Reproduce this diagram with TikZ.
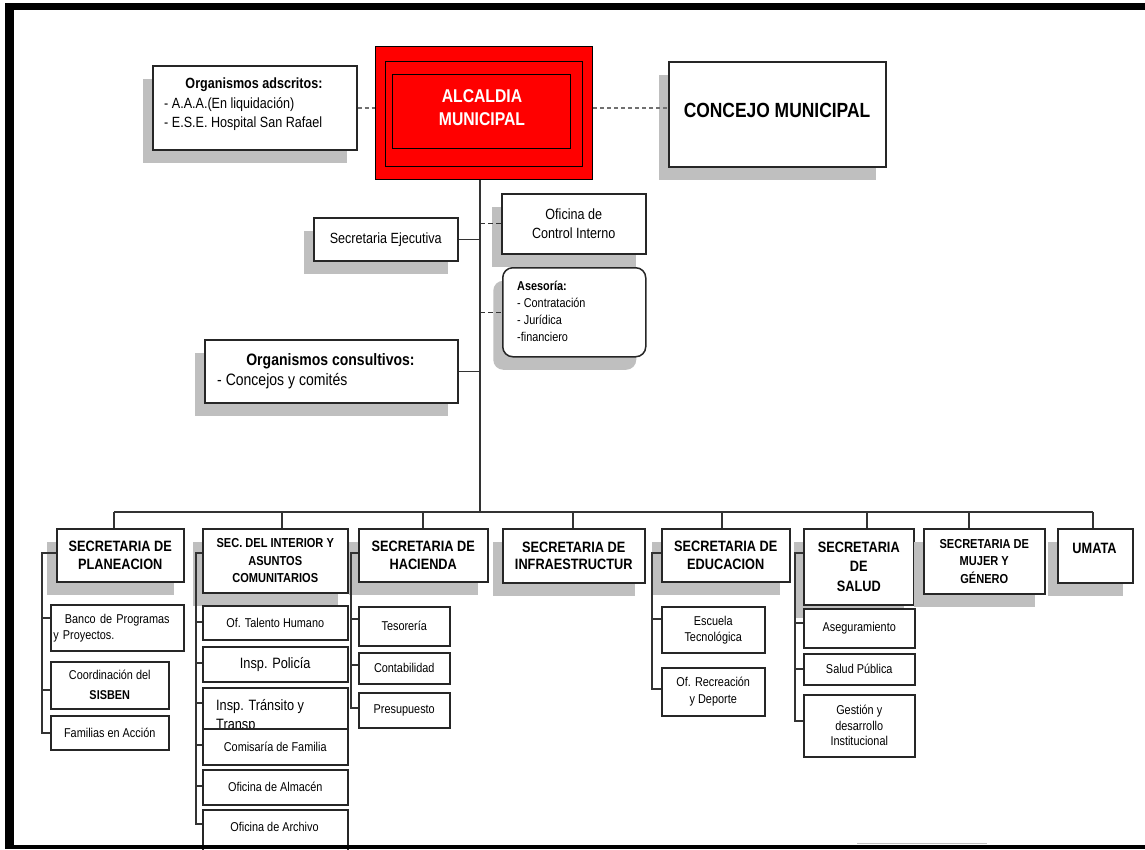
\documentclass[tikz,border=0pt]{standalone}
\usepackage{fontspec}
\setmainfont[FakeStretch=0.85]{Liberation Sans}
\usetikzlibrary{shadows}
\definecolor{shgray}{HTML}{BFBFBF}
\definecolor{boxc}{HTML}{262626}
\definecolor{linec}{HTML}{333333}
\definecolor{dgray}{HTML}{707070}
\definecolor{alcred}{HTML}{FF0000}
\newcommand\fz[2]{\fontsize{#1pt}{#2pt}\selectfont}
\begin{document}
\begin{tikzpicture}[x=1pt,y=-1pt,
  box/.style={draw=boxc,line width=1.5pt,fill=white,inner sep=0pt,anchor=north west,align=center,text=black},
  shad/.style={drop shadow={shadow xshift=-9.5pt,shadow yshift=-13pt,fill=shgray,opacity=1,draw=none}},
  redbox/.style={box,fill=alcred,draw=black,line width=1.2pt},
  conn/.style={draw=linec,line width=1.3pt},
  dashtop/.style={draw=dgray,line width=2.6pt,dash pattern=on 4pt off 3pt},
  dashmid/.style={draw=linec,line width=1.3pt,dash pattern=on 5pt off 3pt},
  ttl/.style={font=\bfseries\fz{15}{17.5}},
  ttls/.style={font=\bfseries\fz{13}{17.5}},
  sub/.style={font=\fz{12.8}{16}},
  subl/.style={font=\fz{15}{18}},
  lbl/.style={inner sep=0pt,text=black},
]
\useasboundingbox (0,0) rectangle (1145,849);

% ---------- top level ----------
\node[box,shad,minimum width=204pt,minimum height=84pt] (ads) at (152,65) {};
\node[lbl,anchor=base,font=\bfseries\fz{14.8}{17}] (adsT) at (254,88) {Organismos adscritos:};
\node[lbl,anchor=base west,font=\fz{14.8}{17}] (adsA) at (164,108) {- A.A.A.(En liquidación)};
\node[lbl,anchor=base west,font=\fz{14.8}{17}] (adsB) at (164,127) {- E.S.E. Hospital San Rafael};

\node[redbox,minimum width=217pt,minimum height=133pt] (alc) at (375,46) {};
\node[redbox,minimum width=197pt,minimum height=105pt] (alc1) at (385,61) {};
\node[redbox,minimum width=178pt,minimum height=74pt] (alc2) at (392,74) {};
\node[lbl,anchor=base,text=white,font=\bfseries\fz{18.5}{23}] (alcT1) at (482,102) {ALCALDIA};
\node[lbl,anchor=base,text=white,font=\bfseries\fz{18.5}{23}] (alcT2) at (482,125) {MUNICIPAL};

\node[box,shad,minimum width=217pt,minimum height=105pt] (con) at (668,61) {};
\node[lbl,anchor=base,font=\bfseries\fz{20.5}{24}] (conT) at (777,117) {CONCEJO MUNICIPAL};

\node[box,shad,minimum width=144pt,minimum height=43pt,font=\fz{14.8}{18}] (sej) at (313,217) {Secretaria Ejecutiva};
\node[box,shad,minimum width=144pt,minimum height=60pt,font=\fz{14.8}{19}] (oci) at (501,193) {Oficina de\\Control Interno};
\node[box,shad,rounded corners=10pt,minimum width=143pt,minimum height=89pt] (ase) at (502,267) {};
\node[lbl,anchor=north west,align=left,font=\fz{12.8}{17}] (aseT) at (517,281) {\textbf{Asesoría:}\\- Contratación\\- Jurídica\\-financiero};

\node[box,shad,minimum width=253pt,minimum height=63pt] (cons) at (204,339) {};
\node[lbl,anchor=base,font=\bfseries\fz{16.5}{19}] (consT) at (330.5,365) {Organismos consultivos:};
\node[lbl,anchor=base west,font=\fz{16.5}{19}] (consA) at (217,385) {- Concejos y comités};

% ---------- secretarias ----------
\node[box,shad,ttl,minimum width=127pt,minimum height=53pt] (pla) at (56,528) {SECRETARIA DE\\PLANEACION};
\node[box,shad,ttls,minimum width=145pt,minimum height=64pt] (int) at (202,528) {SEC. DEL INTERIOR Y\\ASUNTOS\\COMUNITARIOS};
\node[box,shad,ttl,minimum width=129pt,minimum height=53pt] (hac) at (358,528) {SECRETARIA DE\\HACIENDA};
\node[box,shad,ttl,minimum width=142pt,minimum height=54pt] (inf) at (502,528) {SECRETARIA DE\\INFRAESTRUCTUR};
\node[box,shad,ttl,minimum width=128pt,minimum height=53pt] (edu) at (661,528) {SECRETARIA DE\\EDUCACION};
\node[box,shad,font=\bfseries\fz{15}{19.5},minimum width=110pt,minimum height=76pt] (sal) at (803,528) {SECRETARIA\\DE\\SALUD};
\node[box,shad,ttls,minimum width=121pt,minimum height=65pt] (muj) at (923,528) {SECRETARIA DE\\MUJER Y\\GÉNERO};
\node[box,shad,minimum width=75pt,minimum height=54pt] (uma) at (1057,528) {};
\node[lbl,anchor=base,font=\bfseries\fz{15}{17}] (umaT) at (1094.5,553) {UMATA};

% ---------- sub units ----------
\node[box,sub,align=left,text width=128pt,minimum width=133pt,minimum height=46pt] (ban) at (50,604) {\centering Banco de Programas\par\raggedright y Proyectos.};
\node[box,font=\fz{12.8}{20},minimum width=118pt,minimum height=47pt] (coo) at (50,661) {Coordinación del\\\textbf{SISBEN}};
\node[box,sub,minimum width=118pt,minimum height=34pt] (fam) at (50,715) {Familias en Acción};

\node[box,sub,minimum width=145pt,minimum height=34pt] (tal) at (202,605) {Of. Talento Humano};
\node[box,subl,minimum width=145pt,minimum height=35pt] (pol) at (202,646) {Insp. Policía};
\node[box,minimum width=145pt,minimum height=45pt] (tra) at (202,687) {};
\node[lbl,anchor=base west,font=\fz{15}{18}] (traT1) at (216,710) {Insp. Tránsito y};
\node[lbl,anchor=base west,font=\fz{15}{18}] (traT2) at (216,729) {Transp};
\node[box,sub,minimum width=145pt,minimum height=36pt] (com) at (202,728) {Comisaría de Familia};
\node[box,sub,minimum width=145pt,minimum height=35pt] (alm) at (202,769) {Oficina de Almacén};
\node[box,minimum width=145pt,minimum height=48pt] (arc) at (202,809) {};
\node[lbl,anchor=base,font=\fz{12.8}{16}] (arcT) at (274.5,831) {Oficina de Archivo};

\node[box,sub,minimum width=91pt,minimum height=39pt] (tes) at (358,606) {Tesorería};
\node[box,sub,minimum width=91pt,minimum height=31pt] (cnt) at (358,652) {Contabilidad};
\node[box,sub,minimum width=91pt,minimum height=35pt] (pre) at (358,692) {Presupuesto};

\node[box,sub,minimum width=103pt,minimum height=46pt] (esc) at (661,606) {Escuela\\Tecnológica};
\node[box,font=\fz{12.8}{17.5},minimum width=103pt,minimum height=48pt] (rec) at (661,667) {Of. Recreación\\y Deporte};

\node[box,sub,minimum width=111pt,minimum height=39pt] (asg) at (803,608) {Aseguramiento};
\node[box,sub,minimum width=111pt,minimum height=31pt] (spu) at (803,653) {Salud Pública};
\node[box,font=\fz{12.8}{15.5},minimum width=111pt,minimum height=62pt] (ges) at (803,694) {Gestión y\\desarrollo\\Institucional};

% ---------- connectors ----------
\coordinate (dl) at (0,108);
\draw[dashtop] (ads.east |- dl) -- (alc.west |- dl);
\draw[dashtop] (alc.east |- dl) -- (con.west |- dl);
\coordinate (bus) at (480,512);
\draw[conn] (alc.south -| bus) -- (bus);
\draw[conn] (sej.east) -- (sej.east -| bus);
\draw[dashmid] (oci.west -| bus) -- (oci.west);
\draw[dashmid] (ase.west -| bus) -- (ase.west);
\draw[conn] (cons.east) -- (cons.east -| bus);

\coordinate (d1) at (114,512);
\coordinate (d2) at (282,512);
\coordinate (d3) at (423,512);
\coordinate (d4) at (573,512);
\coordinate (d5) at (722,512);
\coordinate (d6) at (867,512);
\coordinate (d7) at (969,512);
\coordinate (d8) at (1093,512);
\draw[conn] (d1) -- (d8);
\draw[conn] (d1) -- (pla.north -| d1);
\draw[conn] (d2) -- (int.north -| d2);
\draw[conn] (d3) -- (hac.north -| d3);
\draw[conn] (d4) -- (inf.north -| d4);
\draw[conn] (d5) -- (edu.north -| d5);
\draw[conn] (d6) -- (sal.north -| d6);
\draw[conn] (d7) -- (muj.north -| d7);
\draw[conn] (d8) -- (uma.north -| d8);

% planeacion
\coordinate (pa) at (42,553);
\coordinate (pb) at (42,618);
\coordinate (pc) at (42,690);
\coordinate (pd) at (42,733);
\draw[conn] (pla.west |- pa) -- (pa) |- (fam.west |- pd);
\draw[conn] (pb) -- (ban.west |- pb);
\draw[conn] (pc) -- (coo.west |- pc);
% interior
\coordinate (ia) at (196,553);
\coordinate (ib) at (196,622);
\coordinate (ic) at (196,663);
\coordinate (id) at (196,703);
\coordinate (ie) at (196,745);
\coordinate (iff) at (196,786);
\coordinate (ig) at (196,824);
\draw[conn] (int.west |- ia) -- (ia) |- (arc.west |- ig);
\draw[conn] (ib) -- (tal.west |- ib);
\draw[conn] (ic) -- (pol.west |- ic);
\draw[conn] (id) -- (tra.west |- id);
\draw[conn] (ie) -- (com.west |- ie);
\draw[conn] (iff) -- (alm.west |- iff);
% hacienda
\coordinate (ha) at (351,553);
\coordinate (hb) at (351,619);
\coordinate (hc) at (351,665);
\coordinate (hd) at (351,708);
\draw[conn] (hac.west |- ha) -- (ha) |- (pre.west |- hd);
\draw[conn] (hb) -- (tes.west |- hb);
\draw[conn] (hc) -- (cnt.west |- hc);
% educacion
\coordinate (ea) at (652,553);
\coordinate (eb) at (652,619);
\coordinate (ec) at (652,689);
\draw[conn] (edu.west |- ea) -- (ea) |- (rec.west |- ec);
\draw[conn] (eb) -- (esc.west |- eb);
% salud
\coordinate (sa) at (795,553);
\coordinate (sb) at (795,623);
\coordinate (sc) at (795,669);
\coordinate (sd) at (795,721);
\draw[conn] (sal.west |- sa) -- (sa) |- (ges.west |- sd);
\draw[conn] (sb) -- (asg.west |- sb);
\draw[conn] (sc) -- (spu.west |- sc);

% ---------- frame ----------
\draw[shgray,line width=1.5pt] (857,843.5) -- (987,843.5);
\fill[black] (5,3) rectangle (1145,10);
\fill[black] (5,3) rectangle (14,849);
\fill[black] (5,845) rectangle (1145,849);
\end{tikzpicture}
\end{document}
